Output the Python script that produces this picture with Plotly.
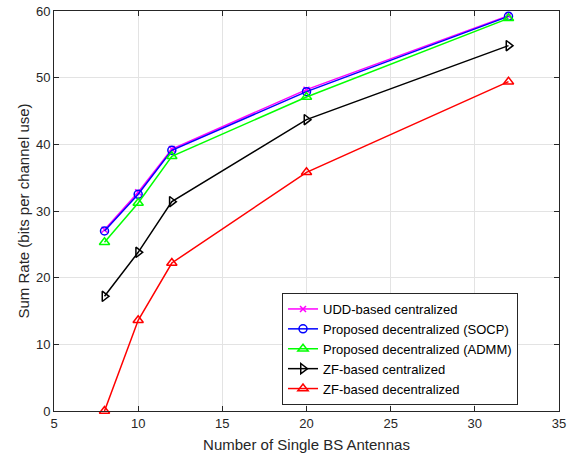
import plotly.graph_objects as go

antennas = [8, 10, 12, 20, 32]
udd_central = [27.2, 32.8, 39.3, 48.2, 59.3]
socp_decentral = [27.0, 32.5, 39.1, 47.9, 59.2]
admm_decentral = [25.3, 31.2, 38.2, 47.1, 58.9]
zf_central = [17.2, 23.8, 31.4, 43.7, 54.8]
zf_decentral = [0.0, 13.6, 22.2, 35.8, 49.4]

names = ["UDD-based centralized", "Proposed decentralized (SOCP)",
         "Proposed decentralized (ADMM)", "ZF-based centralized",
         "ZF-based decentralized"]
series = [udd_central, socp_decentral, admm_decentral, zf_central, zf_decentral]
colors = ["#FF00FF", "#0000FF", "#00FF00", "#000000", "#FF0000"]
symbols = ["x-thin-open", "circle-open", "triangle-up-open",
           "triangle-right-open", "triangle-up-open"]
sizes = [6, 8, 9, 9, 9]

fig = go.Figure()
for n, s, c, sym, sz in zip(names, series, colors, symbols, sizes):
    fig.add_trace(go.Scatter(
        x=antennas, y=s, name=n, mode="lines+markers",
        line=dict(color=c, width=1.5),
        marker=dict(symbol=sym, size=sz, color=c, line=dict(color=c, width=1.5)),
        cliponaxis=False,
    ))

font = "Liberation Sans, Arial, Helvetica, sans-serif"
axis_common = dict(
    showgrid=True, gridcolor="#E3E3E3", gridwidth=1,
    showline=True, linecolor="#262626", linewidth=1, mirror="ticks",
    ticks="inside", ticklen=5, tickcolor="#262626", tickwidth=1,
    zeroline=False, automargin=False,
    tickfont=dict(family=font, size=13, color="#262626"),
)
fig.update_xaxes(range=[5, 35], dtick=5, tick0=5,
                 title=dict(text="Number of Single BS Antennas",
                            font=dict(family=font, size=15, color="#262626")),
                 **axis_common)
fig.update_yaxes(range=[0, 60], dtick=10,
                 title=dict(text="Sum Rate (bits per channel use)",
                            font=dict(family=font, size=15, color="#262626"),
                            standoff=2),
                 **axis_common)

fig.update_layout(
    width=578, height=453,
    margin=dict(l=54, r=19, t=11, b=42, autoexpand=False),
    plot_bgcolor="white", paper_bgcolor="white",
    font=dict(family=font, color="#262626"),
    legend=dict(x=0.4515, y=0.155, xanchor="left", yanchor="middle",
                bgcolor="white", bordercolor="#262626", borderwidth=1,
                font=dict(family=font, size=13, color="#000000"),
                tracegroupgap=0, itemwidth=30),
    showlegend=True,
)

fig.write_html("out.html", config={"displayModeBar": False},
               post_script="document.body.style.margin='0';")
